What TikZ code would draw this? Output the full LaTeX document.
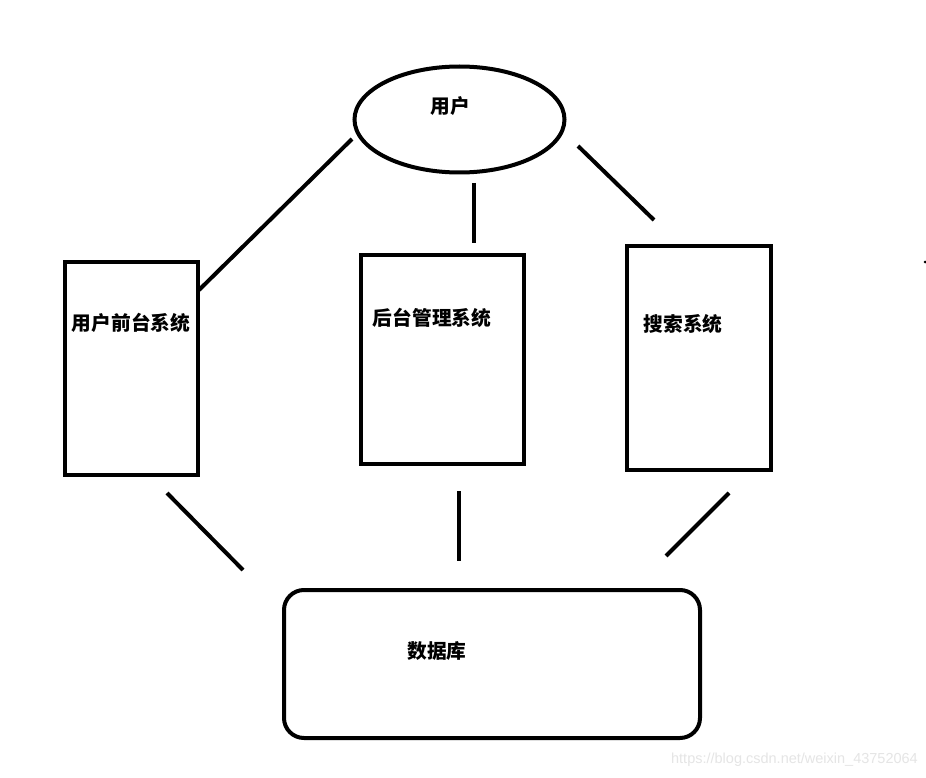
\documentclass[tikz,border=0pt]{standalone}
\usepackage{fontspec}
\setmainfont{Liberation Sans}
\newfontfamily\cjk{Noto Sans CJK SC}
\usetikzlibrary{shapes.geometric}
\begin{document}
\begin{tikzpicture}[x=1pt,y=-1pt,
  thick line/.style={line width=4pt},
  lbl/.style={font=\cjk\bfseries\fontsize{19.7}{21}\selectfont, inner sep=0pt, anchor=center},
  wm/.style={font=\fontsize{14.5}{16}\selectfont, text=black!10, inner sep=0pt, anchor=east}]
\useasboundingbox[fill=white] (0,0) rectangle (926,778);
% shapes
\draw[thick line] (459.5,119.5) ellipse [x radius=105, y radius=53];
\node[inner sep=0pt] (user) at (459.5,119.5) {};
\draw[thick line] (65,262) rectangle (198,475);
\draw[thick line] (361,255) rectangle (524,464);
\draw[thick line] (627,246) rectangle (771,470);
\draw[thick line, rounded corners=20pt] (284,590) rectangle (700,738);
% labels
\node[lbl] (tuser) at (450,106) {用户};
\node[lbl] (tfront) at (131,323) {用户前台系统};
\node[lbl] (tback) at (432,318) {后台管理系统};
\node[lbl] (tsearch) at (683,324) {搜索系统};
\node[lbl] (tdb) at (437,651) {数据库};
% connector end points
\coordinate (a1) at (352,139); \coordinate (a2) at (199,290);
\coordinate (b1) at (474,183); \coordinate (b2) at (474,243);
\coordinate (c1) at (578,146); \coordinate (c2) at (654,220);
\coordinate (d1) at (167,493); \coordinate (d2) at (243,570);
\coordinate (e1) at (459,491); \coordinate (e2) at (459,561);
\coordinate (f1) at (729,493); \coordinate (f2) at (666,556);
\draw[thick line] (a1) -- (a2);
\draw[thick line] (b1) -- (b2);
\draw[thick line] (c1) -- (c2);
\draw[thick line] (d1) -- (d2);
\draw[thick line] (e1) -- (e2);
\draw[thick line] (f1) -- (f2);
% small dot
\fill (925,262) circle (1.5);
% watermark
\node[wm] (wmark) at (918,760) {https://blog.csdn.net/weixin\_43752064};
\end{tikzpicture}
\end{document}
